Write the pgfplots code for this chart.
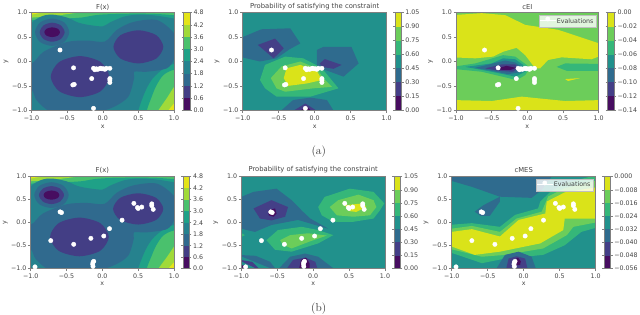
\documentclass[border=0pt]{standalone}
\usepackage{pgfplots}
\pgfplotsset{compat=1.18}
\usepackage{fontspec}
\newfontfamily\dv{DejaVu Sans}
\newcommand\tf{\dv\fontsize{6.3}{7.5}\selectfont}
\newcommand\ttf{\dv\fontsize{6.8}{8}\selectfont}
% eight-layer colours
\definecolor{a0}{HTML}{470D60}\definecolor{a1}{HTML}{433E85}\definecolor{a2}{HTML}{306A8E}\definecolor{a3}{HTML}{26828E}
\definecolor{a4}{HTML}{1FA187}\definecolor{a5}{HTML}{4AC16D}\definecolor{a6}{HTML}{A0DA39}\definecolor{a7}{HTML}{E4E419}
% seven-layer colours
\definecolor{c0}{HTML}{470D60}\definecolor{c1}{HTML}{443F87}\definecolor{c2}{HTML}{2F6B8E}\definecolor{c3}{HTML}{21918C}
\definecolor{c4}{HTML}{35B779}\definecolor{c5}{HTML}{6CCD5A}\definecolor{c6}{HTML}{DAE319}
\definecolor{txt}{HTML}{444444}
\definecolor{axl}{HTML}{808080}
\pgfplotsset{
 main/.style={scale only axis,anchor=south west,xmin=-1,xmax=1,ymin=-1,ymax=1,
  xtick={-1,-0.5,0,0.5,1},ytick={-1,-0.5,0,0.5,1},
  xticklabels={−1.0,−0.5,0.0,0.5,1.0},yticklabels={−1.0,−0.5,0.0,0.5,1.0},
  tick align=outside,tick pos=left,major tick length=2.5pt,
  tick style={axl,line width=0.5pt},axis line style={axl,line width=0.5pt},
  axis on top,
  ticklabel style={font=\tf,text=txt},
  xticklabel style={inner sep=2.6pt},
  yticklabel style={inner sep=1.5pt},
  xlabel={x},ylabel={y},
  xlabel style={font=\tf,text=txt,inner sep=0pt,at={(axis description cs:0.5,-0.165)},anchor=center},
  ylabel style={font=\tf,text=txt,inner sep=0pt,at={(axis description cs:-0.178,0.5)},anchor=center},
  title style={font=\ttf,text=txt,inner sep=1pt,yshift=-3.5pt},
 },
 toprow/.style={title style={yshift=-1pt}},
 cf/.style={fill=#1,draw=none,forget plot,mark=none},
 sf/.style={fill=#1,draw=none,forget plot,mark=none,smooth cycle},
 cbar/.style={scale only axis,anchor=south west,width=6.3pt,xmin=0,xmax=1,xtick=\empty,
  scaled y ticks=false,
  ymajorticks=true,yticklabel pos=right,tick align=outside,major tick length=2pt,
  tick style={axl,line width=0.5pt},axis line style={axl,line width=0.5pt},axis on top,
  yticklabel style={font=\tf,text=txt,inner sep=1.5pt},
 },
 pts/.style={only marks,mark=*,mark size=2.2pt,color=white,mark options={draw=white,fill=white}},
 evleg/.style={legend image code/.code={\path (0,-1pt) rectangle (18pt,1pt);\fill[white,fill opacity=1] (7.5pt,0) circle (2.2pt);},
   legend style={at={(0.985,0.975)},anchor=north east,fill=white,fill opacity=0.8,text opacity=1,draw=lightgray,
   font=\tf,text=txt,inner sep=1pt,row sep=0pt,legend cell align=left,line width=0.3pt}},
}
\newcommand\cb[3]{\addplot[fill=#3,draw=none,forget plot] coordinates {(0,#1)(1,#1)(1,#2)(0,#2)};}
% F(x), the same in both rows
\newcommand\Fmap{
\addplot[cf=a5] coordinates {(-1,-1)(1,-1)(1,1)(-1,1)};
\addplot[cf=a6] coordinates {(-1,1)(-0.35,1)(-0.7,0.93)(-1,0.9)};
\addplot[cf=a6] coordinates {(1,-1)(0.78,-1)(0.9,-0.75)(1,-0.52)};
\addplot[cf=a7] coordinates {(-1,1)(-0.86,1)(-1,0.96)};
\addplot[cf=a7] coordinates {(1,-1)(0.92,-1)(1,-0.86)};
\addplot[cf=a4,smooth] coordinates {(-1.3,0.85)(-1,0.85)(-0.8,0.87)(-0.55,0.88)(-0.3,0.9)(-0.1,0.95)(0.1,0.97)(0.5,0.98)(0.8,0.97)(1,0.95)(1.3,0.93)(1.3,-0.12)(1,-0.17)(0.85,-0.28)(0.75,-0.5)(0.68,-0.75)(0.62,-1)(0.6,-1.3)(-1.3,-1.3)};
\addplot[cf=a3,smooth] coordinates {(-1.3,0.3)(-1.05,0.36)(-1.02,0.45)(-1,0.78)(-0.85,0.93)(-0.7,0.96)(-0.5,0.9)(-0.35,0.8)(-0.2,0.75)(0,0.72)(0.1,0.8)(0.3,0.92)(0.5,0.96)(0.75,0.94)(1,0.88)(1.3,0.8)(1.3,-0.03)(1,-0.05)(0.85,-0.15)(0.7,-0.35)(0.6,-0.6)(0.5,-1)(0.48,-1.3)(-1.3,-1.3)};
\addplot[cf=a2,smooth] coordinates {(-1.2,0.1)(-1,-0.04)(-0.83,0.2)(-0.5,0.4)(-0.22,0.43)(0.03,0.41)(0.2,0.65)(0.43,0.81)(0.76,0.85)(1,0.58)(1.03,0.3)(1,0.05)(0.9,-0.14)(0.62,-0.21)(0.44,-0.21)(0.44,-0.34)(0.36,-0.72)(0.17,-0.92)(-0.04,-1.02)(-0.4,-1.05)(-0.74,-1.02)(-0.93,-0.79)(-1,-0.58)(-1.2,-0.5)};
\addplot[sf=a2] coordinates {(-0.47,0.6)(-0.54,0.8)(-0.71,0.88)(-0.88,0.8)(-0.95,0.6)(-0.88,0.4)(-0.71,0.32)(-0.54,0.4)};
\addplot[sf=a1] coordinates {(0.09,-0.31)(-0.03,-0.01)(-0.32,0.11)(-0.61,-0.01)(-0.73,-0.31)(-0.61,-0.61)(-0.32,-0.73)(-0.03,-0.61)};
\addplot[sf=a1] coordinates {(0.85,0.3)(0.75,0.54)(0.5,0.64)(0.25,0.54)(0.15,0.3)(0.25,0.06)(0.5,-0.04)(0.75,0.06)};
\addplot[sf=a1] coordinates {(-0.535,0.6)(-0.59,0.74)(-0.71,0.795)(-0.83,0.74)(-0.885,0.6)(-0.83,0.46)(-0.71,0.405)(-0.59,0.46)};
\addplot[sf=a0] coordinates {(-0.6,0.6)(-0.63,0.67)(-0.71,0.7)(-0.79,0.67)(-0.82,0.6)(-0.79,0.53)(-0.71,0.5)(-0.63,0.53)};
}
\newcommand\PtsA{\addplot[pts] coordinates {(-0.6,0.235)(-0.41,-0.13)(-0.155,-0.35)(-0.4,-0.47)(-0.42,-0.48)(-0.13,-0.96)(0.1,-0.14)(-0.13,-0.14)(-0.11,-0.17)(-0.09,-0.15)(-0.07,-0.16)(-0.05,-0.15)(-0.03,-0.14)(-0.01,-0.15)(0.01,-0.15)(0.03,-0.16)(0.05,-0.14)(0.1,-0.35)(0.1,-0.38)(0.1,-0.43)};}
\newcommand\PtsB{\addplot[pts] coordinates {(-0.59,0.235)(-0.57,0.22)(0.44,0.42)(0.49,0.33)(0.5,0.31)(0.55,0.34)(0.69,0.41)(0.69,0.37)(0.71,0.29)(0.275,0.055)(0.1,-0.13)(0.02,-0.29)(-0.16,-0.34)(-0.4,-0.47)(-0.72,-0.39)(-0.94,-0.96)(-0.12,-0.84)(-0.13,-0.86)(-0.135,-0.9)(-0.13,-0.95)};}
\newcommand\Fbar[3]{
\begin{axis}[cbar,at={(#1pt,#2pt)},height=#3pt,ymin=0,ymax=4.8,ytick={0,0.6,1.2,1.8,2.4,3,3.6,4.2,4.8},yticklabels={0.0,0.6,1.2,1.8,2.4,3.0,3.6,4.2,4.8}]
\cb{0}{0.6}{a0}\cb{0.6}{1.2}{a1}\cb{1.2}{1.8}{a2}\cb{1.8}{2.4}{a3}\cb{2.4}{3}{a4}\cb{3}{3.6}{a5}\cb{3.6}{4.2}{a6}\cb{4.2}{4.8}{a7}
\end{axis}}
\newcommand\Pbar[3]{
\begin{axis}[cbar,at={(#1pt,#2pt)},height=#3pt,ymin=0,ymax=1.05,ytick={0,0.15,0.3,0.45,0.6,0.75,0.9,1.05},yticklabels={0.00,0.15,0.30,0.45,0.60,0.75,0.90,1.05}]
\cb{0}{0.15}{c0}\cb{0.15}{0.3}{c1}\cb{0.3}{0.45}{c2}\cb{0.45}{0.6}{c3}\cb{0.6}{0.75}{c4}\cb{0.75}{0.9}{c5}\cb{0.9}{1.05}{c6}
\end{axis}}
\begin{document}
\begin{tikzpicture}[x=1pt,y=1pt]
\useasboundingbox (0,0) rectangle (640,315);
% ---------- row a
\begin{axis}[main,toprow,at={(31.5pt,204.7pt)},width=142.5pt,height=97.6pt,title={F(x)}]
\Fmap
\PtsA
\end{axis}
\Fbar{183.7}{204.7}{97.6}
\begin{axis}[main,toprow,at={(242.7pt,204.7pt)},width=144pt,height=97.6pt,title={Probability of satisfying the constraint}]
\addplot[cf=c3] coordinates {(-1,-1)(1,-1)(1,1)(-1,1)};
\addplot[cf=c2] coordinates {(-1.05,0.47)(-0.74,0.66)(-0.34,0.68)(-0.2,0.37)(-0.35,0.25)(-0.53,0.065)(-0.76,0)(-1.05,0.1)};
\addplot[cf=c1] coordinates {(-0.79,0.34)(-0.55,0.47)(-0.43,0.27)(-0.57,0.065)};
\addplot[cf=c2] coordinates {(0.03,0.235)(0.12,0.3)(0.51,0.3)(0.61,-0.04)(0.4,-0.31)(0.14,-0.17)(0.03,-0.1)};
\addplot[cf=c1] coordinates {(0.07,-0.04)(0.14,0.05)(0.375,-0.07)(0.26,-0.15)(0.1,-0.11)};
\addplot[cf=c2] coordinates {(-0.5,-1.05)(-0.3,-0.79)(-0.06,-0.74)(0.17,-0.79)(0.28,-1.05)};
\addplot[cf=c1] coordinates {(-0.34,-1.05)(-0.13,-0.86)(0.07,-1.05)};
\addplot[cf=c0] coordinates {(-0.23,-1.05)(-0.12,-0.91)(-0.02,-1.05)};
\addplot[cf=c4] coordinates {(-0.76,-0.38)(-0.69,-0.07)(-0.41,0.1)(-0.16,0.065)(0.03,-0.08)(0.14,-0.21)(0.33,-0.55)(-0.06,-0.72)(-0.53,-0.72)(-0.69,-0.55)};
\addplot[cf=c5] coordinates {(-0.61,-0.34)(-0.46,-0.1)(-0.2,0)(0.03,-0.14)(0.12,-0.34)(0.24,-0.52)(-0.02,-0.55)(-0.41,-0.62)(-0.53,-0.55)};
\addplot[cf=c6] coordinates {(-0.43,-0.34)(-0.39,-0.14)(-0.2,-0.07)(0.03,-0.19)(0.1,-0.38)(-0.11,-0.45)(-0.37,-0.5)};
\PtsA
\end{axis}
\Pbar{395.3}{204.7}{97.6}
\begin{axis}[main,toprow,at={(456pt,204.7pt)},width=142.7pt,height=97.6pt,title={cEI},evleg]
\addplot[cf=c5] coordinates {(-1,-1)(1,-1)(1,1)(-1,1)};
\addplot[cf=c6] coordinates {(-1.05,0.95)(-0.64,0.99)(-0.31,0.95)(-0.03,0.75)(0.43,0.65)(1.05,0.35)(1.05,0.13)(0.9,0.045)(0.48,0.085)(0.29,0.03)(0.18,-0.14)(0.11,-0.14)(-0.03,0.13)(-0.15,0.28)(-0.34,0.2)(-0.48,0.1)(-0.73,0.065)(-1.05,0.085)};
\addplot[cf=c6] coordinates {(-1.05,-0.79)(-0.5,-0.81)(-0.08,-0.72)(0.53,-0.81)(1.05,-0.79)(1.05,-1.05)(-1.05,-1.05)};
\addplot[cf=c6] coordinates {(0.53,-0.36)(0.74,-0.34)(0.57,-0.4)};
\addplot[cf=c4] coordinates {(-1.05,-0.11)(-0.73,-0.04)(-0.34,0.13)(-0.17,0.1)(-0.01,-0.07)(0.03,-0.14)(-0.03,-0.28)(-0.15,-0.38)(-0.64,-0.21)(-1.05,-0.15)};
\addplot[cf=c4] coordinates {(0.41,-0.11)(0.53,-0.04)(1.05,-0.05)(1.05,-0.19)(0.55,-0.19)};
\addplot[cf=c3] coordinates {(-0.87,-0.11)(-0.5,-0.04)(-0.34,0.065)(-0.17,0.045)(-0.06,-0.07)(-0.03,-0.21)(-0.17,-0.31)(-0.5,-0.21)};
\addplot[cf=c2] coordinates {(-0.73,-0.13)(-0.48,-0.04)(-0.31,0.02)(-0.17,-0.02)(-0.08,-0.11)(-0.1,-0.22)(-0.27,-0.26)(-0.5,-0.19)};
\addplot[cf=c1] coordinates {(-0.59,-0.14)(-0.36,-0.06)(-0.17,-0.06)(-0.13,-0.14)(-0.2,-0.21)(-0.41,-0.19)};
\addplot[cf=c0] coordinates {(-0.43,-0.14)(-0.29,-0.09)(-0.16,-0.13)(-0.23,-0.17)(-0.36,-0.17)};
\PtsA
\addlegendentry{Evaluations}
\end{axis}
\begin{axis}[cbar,at={(607.7pt,204.7pt)},height=97.6pt,ymin=-0.14,ymax=0,ytick={-0.14,-0.12,-0.1,-0.08,-0.06,-0.04,-0.02,0},yticklabels={−0.14,−0.12,−0.10,−0.08,−0.06,−0.04,−0.02,0.00}]
\cb{-0.14}{-0.12}{c0}\cb{-0.12}{-0.1}{c1}\cb{-0.1}{-0.08}{c2}\cb{-0.08}{-0.06}{c3}\cb{-0.06}{-0.04}{c4}\cb{-0.04}{-0.02}{c5}\cb{-0.02}{0}{c6}
\end{axis}
\node[font=\fontsize{11.5}{13}\selectfont,text=black!80] at (318.7,163.3) {(a)};
% ---------- row b
\begin{axis}[main,at={(30.7pt,46.3pt)},width=143.3pt,height=92pt,title={F(x)}]
\Fmap
\PtsB
\end{axis}
\Fbar{183}{46.3}{92}
\begin{axis}[main,at={(241.3pt,46.3pt)},width=143.7pt,height=92pt,title={Probability of satisfying the constraint}]
\addplot[cf=c3] coordinates {(-1,-1)(1,-1)(1,1)(-1,1)};
\addplot[cf=c2] coordinates {(-1.05,0.53)(-0.83,0.67)(-0.51,0.74)(-0.3,0.49)(-0.14,0.235)(-0.04,0.09)(0.21,-0.13)(0.03,-0.05)(-0.21,0.06)(-0.58,-0.05)(-0.81,-0.2)(-0.95,-0.15)(-1.05,-0.1)};
\addplot[cf=c1] coordinates {(-0.83,0.31)(-0.58,0.49)(-0.35,0.34)(-0.39,0.13)(-0.58,0.05)(-0.74,0.09)};
\addplot[cf=c0] coordinates {(-0.62,0.27)(-0.53,0.31)(-0.51,0.2)(-0.55,0.13)(-0.62,0.16)};
\addplot[cf=c4] coordinates {(-1.05,-0.18)(-0.95,-0.27)(-1.05,-0.35)};
\addplot[cf=c2] coordinates {(-0.51,-1.05)(-0.32,-0.74)(-0.11,-0.67)(0.07,-0.74)(0.33,-1.05)};
\addplot[cf=c1] coordinates {(-0.39,-1.05)(-0.28,-0.81)(-0.11,-0.76)(0.03,-0.85)(0.07,-1.05)};
\addplot[cf=c0] coordinates {(-0.2,-1.05)(-0.17,-0.81)(-0.1,-0.76)(-0.05,-0.88)(-0.05,-1.05)};
\addplot[cf=c2] coordinates {(-1.05,-0.7)(-0.8,-0.72)(-0.6,-0.85)(-0.5,-1.05)};
\addplot[cf=c1] coordinates {(-1.05,-0.8)(-0.85,-0.85)(-0.72,-1.05)};
\addplot[cf=c0] coordinates {(-1.05,-0.93)(-0.93,-0.93)(-0.88,-1.05)};
\addplot[cf=c4] coordinates {(-0.65,-0.38)(-0.49,-0.16)(-0.16,-0.09)(0.07,-0.16)(0.28,-0.27)(0.07,-0.45)(-0.3,-0.63)(-0.53,-0.59)};
\addplot[cf=c5] coordinates {(-0.46,-0.38)(-0.32,-0.27)(-0.07,-0.23)(0.19,-0.28)(-0.05,-0.41)(-0.3,-0.56)(-0.42,-0.48)};
\addplot[cf=c4] coordinates {(0.07,0.34)(0.16,0.56)(0.51,0.74)(0.84,0.67)(0.99,0.42)(0.93,0.27)(0.84,0.09)(0.56,0.02)(0.28,0.02)(0.12,0.16)};
\addplot[cf=c5] coordinates {(0.23,0.34)(0.35,0.49)(0.63,0.61)(0.84,0.49)(0.88,0.34)(0.79,0.16)(0.56,0.13)(0.33,0.16)};
\addplot[cf=c6] coordinates {(0.44,0.38)(0.7,0.42)(0.74,0.34)(0.6,0.235)(0.51,0.25)};
\PtsB
\end{axis}
\Pbar{394}{46.3}{92}
\begin{axis}[main,at={(451.7pt,46.3pt)},width=144pt,height=92pt,title={cMES},evleg]
\addplot[cf=c3] coordinates {(-1,-1)(1,-1)(1,1)(-1,1)};
\addplot[cf=c2] coordinates {(-1.05,1.05)(-1.05,0.93)(-0.72,0.78)(-0.33,0.565)(0.11,0.54)(0.25,0.71)(0.41,1.05)};
\addplot[cf=c2] coordinates {(-0.68,0.24)(-0.56,0.38)(-0.33,0.565)(-0.33,0.46)(-0.47,0.15)(-0.6,0.15)};
\addplot[cf=c4] coordinates {(-1.05,-0.05)(-0.72,-0.01)(-0.33,-0.09)(-0.12,0.17)(0.2,0.31)(0.23,0.46)(0.37,0.67)(0.57,0.86)(1.05,1.05)(1.05,-0.09)(0.8,-0.2)(0.57,-0.49)(0.27,-0.7)(-0.26,-0.78)(-0.58,-0.88)(-1.05,-0.63)};
\addplot[cf=c5] coordinates {(-1.05,-0.14)(-0.72,-0.07)(-0.33,-0.2)(-0.1,0.09)(0.25,0.24)(0.34,0.57)(0.57,0.75)(1.05,0.93)(1.05,0.02)(0.69,-0.09)(0.6,-0.27)(0.27,-0.56)(-0.26,-0.7)(-0.58,-0.74)(-1.05,-0.56)};
\addplot[cf=c6] coordinates {(-1.05,-0.21)(-0.72,-0.14)(-0.33,-0.3)(-0.07,0.06)(0.3,0.2)(0.32,0.46)(0.57,0.66)(1.05,0.78)(1.05,0.09)(0.57,0.09)(0.55,-0.16)(0.23,-0.45)(-0.33,-0.63)(-0.68,-0.7)(-1.05,-0.49)};
\addplot[cf=c2] coordinates {(-0.4,-1.05)(-0.26,-0.7)(-0.07,-0.63)(0.11,-0.74)(0.18,-1.05)};
\addplot[cf=c1] coordinates {(-0.25,-1.05)(-0.21,-0.78)(-0.1,-0.73)(0.02,-0.78)(0.06,-1.05)};
\addplot[cf=c0] coordinates {(-0.16,-0.92)(-0.14,-0.81)(-0.08,-0.76)(-0.04,-0.84)(-0.05,-0.92)};
\PtsB
\addlegendentry{Evaluations}
\end{axis}
\begin{axis}[cbar,at={(604.3pt,46.3pt)},height=92pt,ymin=-0.056,ymax=0,ytick={-0.056,-0.048,-0.04,-0.032,-0.024,-0.016,-0.008,0},yticklabels={−0.056,−0.048,−0.040,−0.032,−0.024,−0.016,−0.008,0.000}]
\cb{-0.056}{-0.048}{c0}\cb{-0.048}{-0.04}{c1}\cb{-0.04}{-0.032}{c2}\cb{-0.032}{-0.024}{c3}\cb{-0.024}{-0.016}{c4}\cb{-0.016}{-0.008}{c5}\cb{-0.008}{0}{c6}
\end{axis}
\node[font=\fontsize{11.5}{13}\selectfont,text=black!80] at (318.7,6.7) {(b)};
\end{tikzpicture}
\end{document}
